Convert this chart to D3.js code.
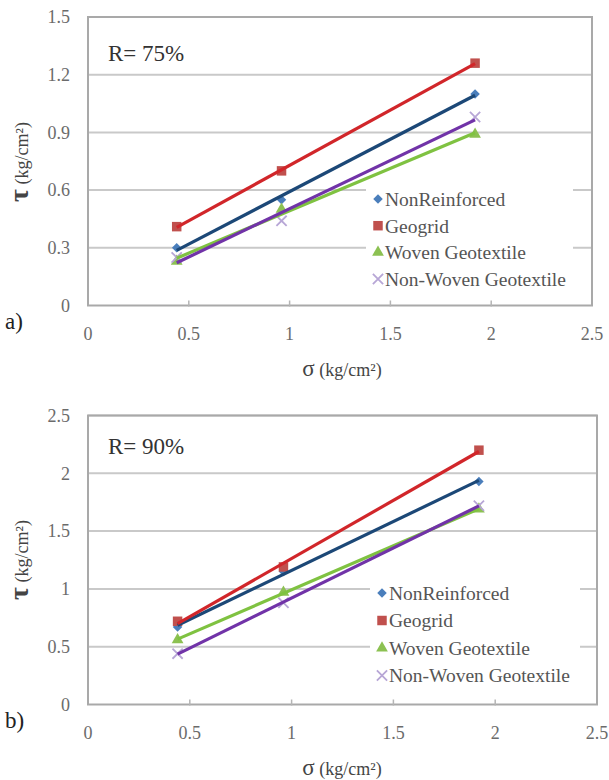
<!DOCTYPE html>
<html>
<head>
<meta charset="utf-8">
<script src="https://cdn.jsdelivr.net/npm/d3@7"></script>
<style>
  body { margin: 0; background: #fff; }
  svg { display: block; }
  .tick-label { fill: #6b6b6b; font-size: 18px; }
  .axis-title { fill: #444; font-size: 18px; }
  .legend-label { fill: #555; font-size: 19.5px; }
</style>
</head>
<body>
<svg id="chart" width="609" height="780" font-family="'Liberation Serif', Tinos, 'Times New Roman', 'DejaVu Serif', serif"></svg>
<script>
// normal stress for the three shear tests
const sigma = [0.44, 0.96, 1.92];
const seriesNames = ["NonReinforced", "Geogrid", "Woven Geotextile", "Non-Woven Geotextile"];

// R = 75%
const nonReinforced75 = [0.30, 0.55, 1.10];
const geogrid75 = [0.41, 0.70, 1.26];
const woven75 = [0.23, 0.50, 0.89];
const nonWoven75 = [0.25, 0.44, 0.98];

// R = 90%
const nonReinforced90 = [0.67, 1.15, 1.93];
const geogrid90 = [0.72, 1.19, 2.20];
const woven90 = [0.56, 0.97, 1.69];
const nonWoven90 = [0.44, 0.88, 1.72];

const xTicks = [0, 0.5, 1, 1.5, 2, 2.5];
const yTicks75 = [0, 0.3, 0.6, 0.9, 1.2, 1.5];
const yTicks90 = [0, 0.5, 1, 1.5, 2, 2.5];

const styles = [
    { marker: d3.symbolSquare, rot: 45, fill: "#4a7ebb", line: "#1c4877", size: 45 },
    { marker: d3.symbolSquare, rot: 0, fill: "#c0504d", line: "#d1262a", size: 90 },
    { marker: d3.symbolTriangle, rot: 0, fill: "#8cc152", line: "#7fc241", size: 60 },
    { marker: d3.symbolTimes, rot: 0, fill: "#b7a6d6", line: "#7133a8", size: 70, stroke: true }
];

const svg = d3.select("#chart");

function trend(xs, ys) {
    const mx = d3.mean(xs), my = d3.mean(ys);
    const sxy = d3.sum(xs, (x, i) => (x - mx) * (ys[i] - my));
    const sxx = d3.sum(xs, x => (x - mx) ** 2);
    const slope = sxy / sxx;
    return x => my + slope * (x - mx);
}

function addMarker(sel, st) {
    return sel.append("path")
        .attr("d", d3.symbol().type(st.marker).size(st.size))
        .attr("fill", st.stroke ? "none" : st.fill)
        .attr("stroke", st.stroke ? st.fill : "none")
        .attr("stroke-width", 1.8);
}

function drawPanel(p) {
    const innerWidth = p.right - p.left;
    const innerHeight = p.bottom - p.top;
    const g = svg.append("g").attr("transform", `translate(${p.left},${p.top})`);

    const xScale = d3.scaleLinear().domain([0, 2.5]).range([0, innerWidth]);
    const yScale = d3.scaleLinear().domain([0, d3.max(p.yTicks)]).range([innerHeight, 0]);

    // gridlines
    g.selectAll(".grid")
        .data(p.yTicks.slice(1))
        .enter()
        .append("line")
        .attr("x1", 0)
        .attr("x2", innerWidth)
        .attr("y1", d => yScale(d))
        .attr("y2", d => yScale(d))
        .attr("stroke", "#c9c9c9")
        .attr("stroke-width", 2);

    g.append("rect")
        .attr("width", innerWidth)
        .attr("height", innerHeight)
        .attr("fill", "none")
        .attr("stroke", "#a9a9a9")
        .attr("stroke-width", 2);

    // x ticks sit across the bottom axis
    g.selectAll(".xtick")
        .data(xTicks.slice(1, -1))
        .enter()
        .append("line")
        .attr("x1", d => xScale(d))
        .attr("x2", d => xScale(d))
        .attr("y1", innerHeight - 5)
        .attr("y2", innerHeight + 1)
        .attr("stroke", "#b5b5b5")
        .attr("stroke-width", 1.5);

    g.selectAll(".ylabel")
        .data(p.yTicks)
        .enter()
        .append("text")
        .attr("class", "tick-label")
        .attr("x", -18)
        .attr("y", d => yScale(d))
        .attr("dy", "0.35em")
        .attr("text-anchor", "end")
        .text(d => d);

    g.selectAll(".xlabel")
        .data(xTicks)
        .enter()
        .append("text")
        .attr("class", "tick-label")
        .attr("x", d => xScale(d))
        .attr("y", innerHeight + 28)
        .attr("dy", "0.35em")
        .attr("text-anchor", "middle")
        .text(d => d);

    // markers first, trendlines over them
    p.series.forEach((ys, i) => {
        const st = styles[i];
        sigma.forEach((x, j) => {
            const m = g.append("g")
                .attr("transform", `translate(${xScale(x)},${yScale(ys[j])}) rotate(${st.rot})`);
            addMarker(m, st);
        });
    });

    const order = [2, 3, 0, 1];
    order.forEach(i => {
        const f = trend(sigma, p.series[i]);
        const x0 = sigma[0], x1 = sigma[sigma.length - 1];
        g.append("line")
            .attr("x1", xScale(x0))
            .attr("y1", yScale(f(x0)))
            .attr("x2", xScale(x1))
            .attr("y2", yScale(f(x1)))
            .attr("stroke", styles[i].line)
            .attr("stroke-width", 3.2);
    });

    g.append("text")
        .attr("x", 20)
        .attr("y", p.rLabelY)
        .attr("dy", "0.35em")
        .attr("fill", "#333")
        .style("font-size", "23px")
        .text(p.rLabel);

    // legend
    const lg = svg.append("g").attr("transform", `translate(${p.legend.x},${p.legend.y})`);
    lg.append("rect")
        .attr("x", 0)
        .attr("y", -15)
        .attr("width", p.legend.w)
        .attr("height", 110)
        .attr("fill", "#fff");
    seriesNames.forEach((name, i) => {
        const st = styles[i];
        const row = lg.append("g").attr("transform", `translate(0,${i * p.legend.step})`);
        addMarker(row.append("g").attr("transform", `translate(12,0) rotate(${st.rot})`), st);
        row.append("text")
            .attr("class", "legend-label")
            .attr("x", 19)
            .attr("dy", "0.35em")
            .text(name);
    });

    // axis titles
    const yt = svg.append("text")
        .attr("class", "axis-title")
        .attr("transform", `translate(22,${p.yTitleY}) rotate(-90)`)
        .attr("text-anchor", "middle")
        .attr("dy", "0.35em");
    yt.append("tspan").style("font-size", "28px").style("font-weight", "bold").text("τ");
    yt.append("tspan").text(" (kg/cm²)");

    const xt = svg.append("text")
        .attr("class", "axis-title")
        .attr("x", 342)
        .attr("y", p.bottom + 64)
        .attr("dy", "0.35em")
        .attr("text-anchor", "middle");
    xt.append("tspan").style("font-size", "23px").text("σ");
    xt.append("tspan").text(" (kg/cm²)");

    svg.append("text")
        .attr("x", 5)
        .attr("y", p.bottom + 15)
        .attr("dy", "0.35em")
        .attr("fill", "#222")
        .style("font-size", "23px")
        .text(p.tag);
}

drawPanel({
    left: 88, right: 592, top: 17, bottom: 305.5,
    yTicks: yTicks75,
    series: [nonReinforced75, geogrid75, woven75, nonWoven75],
    rLabel: "R= 75%", rLabelY: 36,
    legend: { x: 366, y: 199, w: 207, step: 26.7 },
    yTitleY: 162,
    tag: "a)"
});

drawPanel({
    left: 88, right: 597, top: 415.5, bottom: 704.5,
    yTicks: yTicks90,
    series: [nonReinforced90, geogrid90, woven90, nonWoven90],
    rLabel: "R= 90%", rLabelY: 30,
    legend: { x: 370, y: 593, w: 210, step: 27.5 },
    yTitleY: 560,
    tag: "b)"
});
</script>
</body>
</html>
